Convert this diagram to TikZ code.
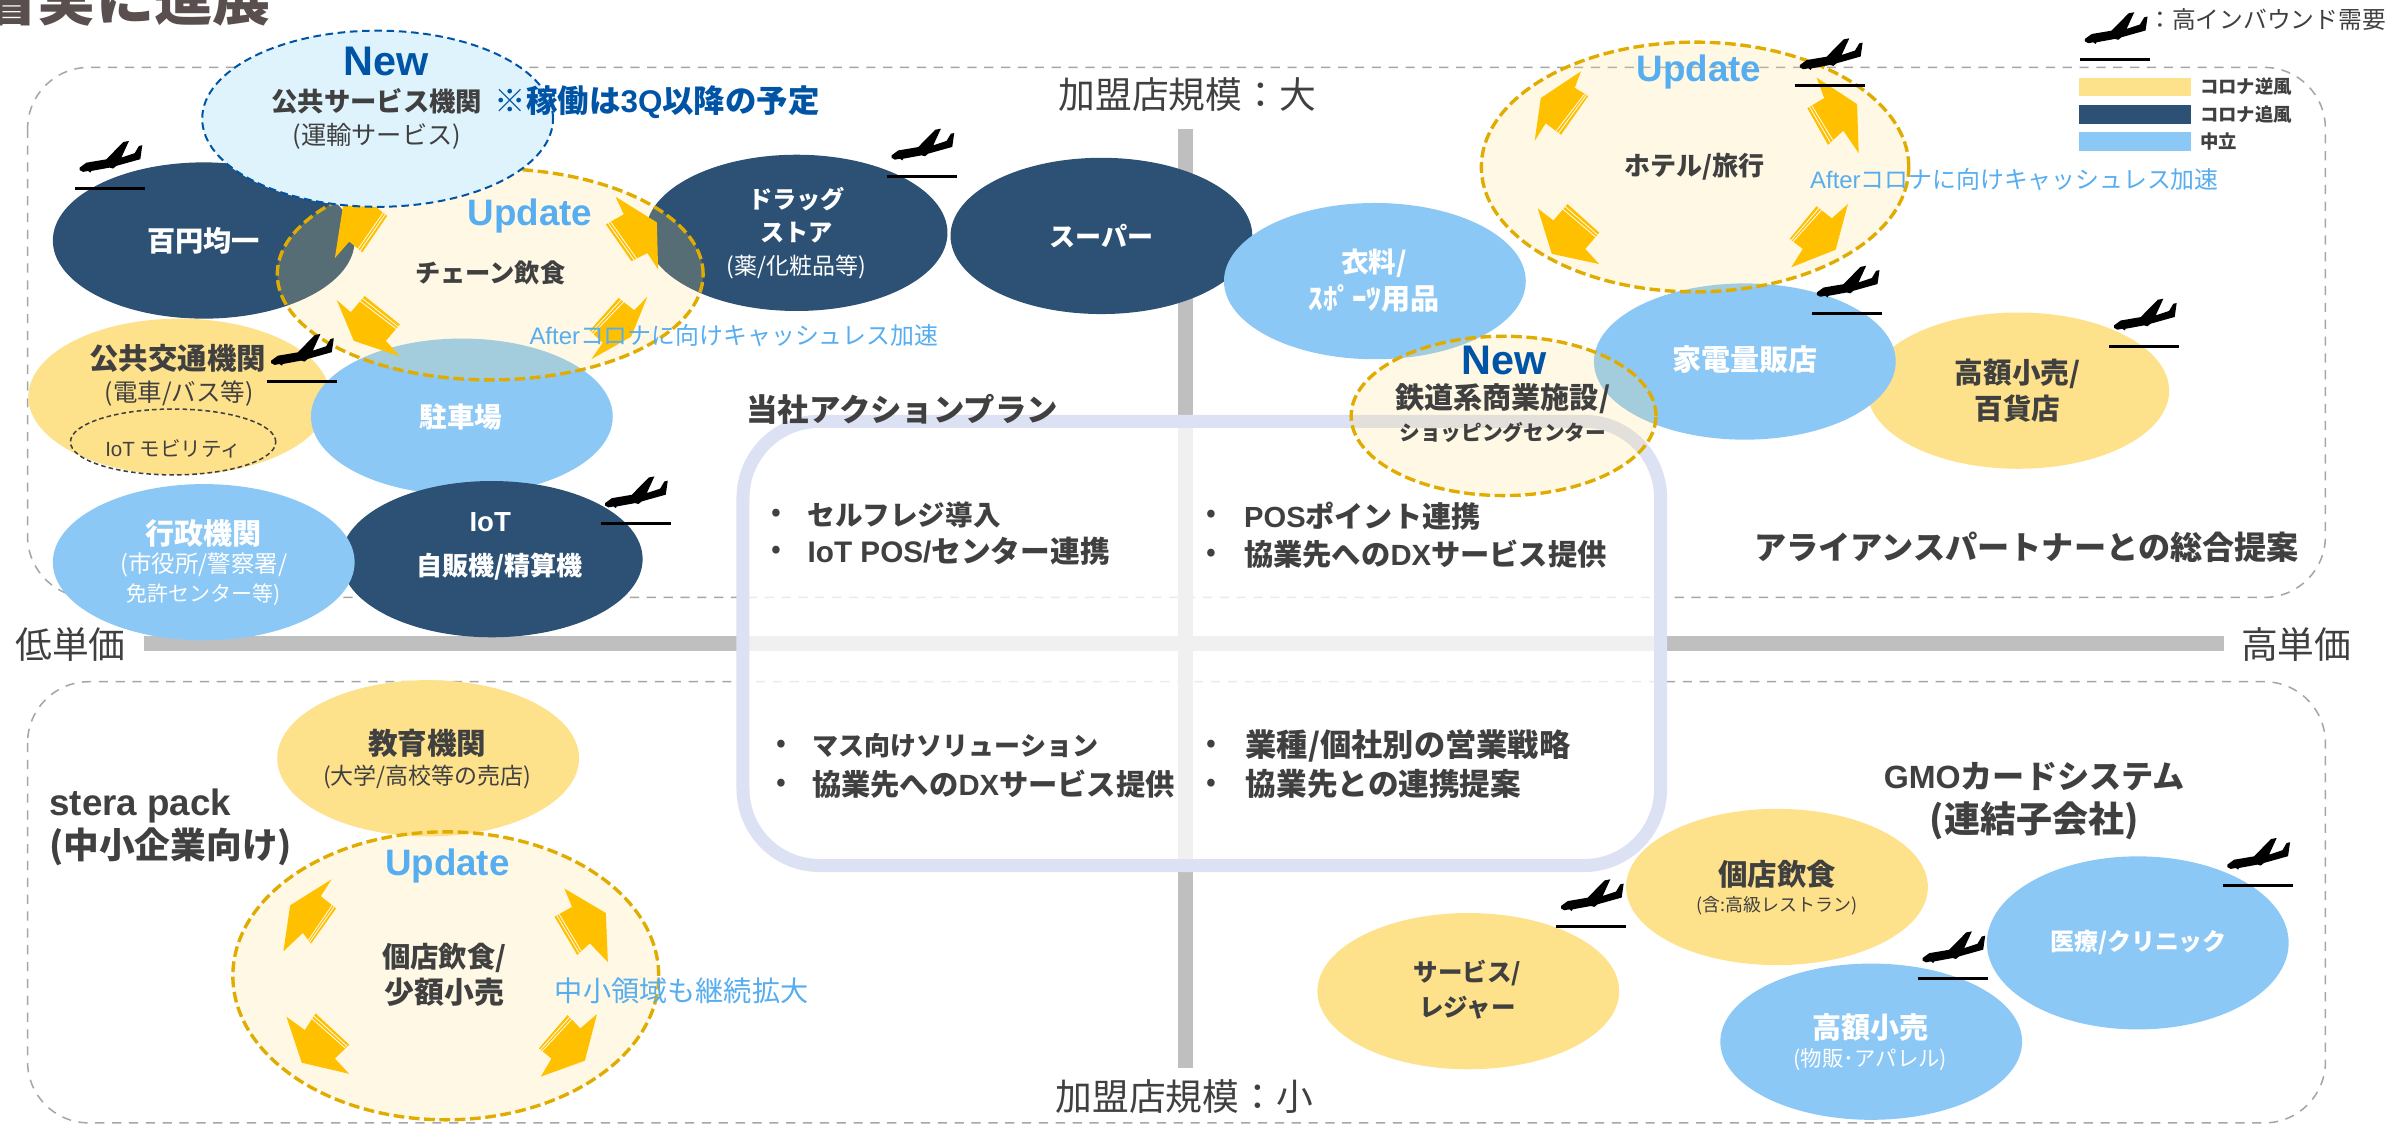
\documentclass[tikz,border=0pt]{standalone}
\usepackage{fontspec}
\setmainfont{Noto Sans CJK JP}
\newfontfamily\lat{Liberation Sans}
\usetikzlibrary{shapes.geometric,calc}
\definecolor{navy}{HTML}{2C5174}
\definecolor{ylw}{HTML}{FEE18B}
\definecolor{lblue}{HTML}{8CC8F5}
\definecolor{ambr}{HTML}{FFC000}
\definecolor{dashy}{HTML}{E0AC00}
\definecolor{cream}{HTML}{FFE07E}
\definecolor{darkt}{HTML}{404040}
\definecolor{titlet}{HTML}{5A4F4F}
\definecolor{skyt}{HTML}{56ADEF}
\definecolor{deepb}{HTML}{0054A6}
\definecolor{axisg}{HTML}{BFBFBF}
\definecolor{framg}{HTML}{A6A6A6}
\definecolor{planb}{HTML}{DCE1F3}
\definecolor{paleb}{HTML}{DFF3FC}
\tikzset{
  x=1pt,y=-1pt,
  ell/.style 2 args={ellipse,inner sep=0pt,minimum width=#1pt,minimum height=#2pt},
  std/.style={ell={197}{102}},
  nv/.style={std,fill=navy},
  yl/.style={std,fill=ylw},
  lb/.style={std,fill=lblue},
  upd/.style={draw=dashy,line width=2.2pt,dash pattern=on 7pt off 3pt,fill=cream,fill opacity=.2},
  frm/.style={draw=framg,line width=1pt,dash pattern=on 6pt off 5pt,rounded corners=40pt},
  txt/.style={inner sep=0pt,align=center},
  wb/.style={txt,text=white},
  db/.style={txt,text=darkt},
  sk/.style={txt,text=skyt},
  dp/.style={txt,text=deepb},
  stripe/.style={white,line width=.5pt},
  plane/.pic={
    \draw[black,line width=2pt] (0,0) -- (45.7,0);
    \fill[black,shift={(2.6,-31)}] (0.4,17.4)--(4.8,14.2)--(17.8,12)--(28.9,0.7)--(32.6,0)--(27.6,10.9)--(36.3,8)--(39.1,3.3)--(41.3,2.8)--(40,11.9)--(24.3,16.3)--(22.2,18)--(20,17.4)--(8,19.6)--(7.4,20.7)--(5.9,19.6)--(2.6,20.2)--(0.4,19)--cycle;
  }
}
\newcommand\tl[5]{\node[#3,font=\fontsize{#4}{#4}\selectfont] (#1) at (#2) {#5};}
\newcommand\tb[5]{\node[#3,font=\bfseries\fontsize{#4}{#4}\selectfont] (#1) at (#2) {#5};}
\def\arw(#1)(#2)(#3)(#4)(#5)(#6)(#7){%
  \fill[ambr] (#1)--(#2)--(#3)--(#4)--(#5)--(#6)--(#7)--cycle;
  \draw[stripe] ($(#5)!.16!(#4)$)--($(#6)!.13!(#7)$);
  \draw[stripe] ($(#5)!.32!(#4)$)--($(#6)!.26!(#7)$);}
\begin{document}
\begin{tikzpicture}
\useasboundingbox (0,0) rectangle (1568,734.4);
\clip (0,0) rectangle (1568,734.4);
\fill[white] (0,0) rectangle (1568,734.4);
% title
\tb{title}{177,-1}{txt,anchor=east,text=titlet}{38}{着実に進展}
% frames
\draw[frm] (18,44) rectangle (1518,390);
\draw[frm] (18,445) rectangle (1518,733);
% axes
\fill[axisg] (769,84) rectangle (779,697);
\fill[axisg] (94,415) rectangle (1452,425);
\tl{lo}{46,421}{db}{24}{低単価}
\tl{hi}{1499,421}{db}{24}{高単価}
\tl{big}{775,62}{db}{24}{加盟店規模：大}
\tl{small}{773,716}{db}{24}{加盟店規模：小}
% action plan
\draw[draw=planb,line width=8.5pt,fill=white,fill opacity=.78,draw opacity=1,rounded corners=50pt] (485,275) rectangle (1084,565);
\tb{ap}{589,267}{db}{20.5}{当社アクションプラン}
\foreach \n/\bx/\by in {a/507/336,b/507/360,c/791/337,d/791/362,e/510/487,f/510/512,g/791/487,h/791/512}{\tb{bu\n}{\bx,\by}{db}{16}{•}}
\tb{p1}{527,336}{db,anchor=west}{18}{セルフレジ導入}
\tb{p2}{527,360}{db,anchor=west}{19.4}{{\lat IoT POS/}センター連携}
\tb{p3}{812,337}{db,anchor=west}{19}{{\lat POS}ポイント連携}
\tb{p4}{812,362}{db,anchor=west}{19.1}{協業先への{\lat DX}サービス提供}
\tb{p5}{530,487}{db,anchor=west}{17}{マス向けソリューション}
\tb{p6}{530,512}{db,anchor=west}{19.1}{協業先への{\lat DX}サービス提供}
\tb{p7}{813,487}{db,anchor=west}{20.4}{業種/個社別の営業戦略}
\tb{p8}{813,512}{db,anchor=west}{20}{協業先との連携提案}
% upper left cluster
\node[nv] (hyaku) at (133,157) {};
\node[nv] (drug) at (520,152) {};
\node[nv] (super) at (719,154) {};
\node[yl] (kotsu) at (117,259) {};
\node[ell={134}{43},draw=darkt,line width=1pt,dash pattern=on 3pt off 2pt] (mob) at (113,288.5) {};
\node[lb] (park) at (301.5,272) {};
\node[nv] (jihan) at (321,365) {};
\node[lb] (gyosei) at (133,367) {};
\node[ell={278}{138},upd] (chain) at (320,179) {};
\arw(250,118)(224,134)(218.6,168.4)(228,157.7)(236.5,164.7)(252.7,141)(243,133)
\arw(401.8,128.4)(428.8,145.2)(429.6,175.9)(422.6,165.2)(412.2,170.5)(395.5,146.5)(407.2,139.9)
\arw(261,232.6)(231,222.5)(219.8,195.8)(229,203.8)(238,193.2)(261,211.8)(251.9,222.5)
\arw(386,234.5)(412,219.8)(422.6,193.7)(414,202.5)(403.8,194.5)(385,215.8)(393.4,223.8)
\node[ell={229}{115},fill=paleb,draw=deepb,line width=1.3pt,dash pattern=on 5pt off 3pt] (pub) at (246.5,77.5) {};
\tb{new1}{252,40}{dp}{27}{\lat New}
\tb{pub1}{246,66}{db}{17.2}{公共サービス機関}
\tl{pub2}{246,89}{db}{16.5}{(運輸サービス)}
\tb{note}{429,67}{dp}{20.5}{※稼働は{\lat 3Q}以降の予定}
\tb{upd1}{346,141}{sk}{24}{\lat Update}
\tb{t1}{133,157}{wb}{18.4}{百円均一}
\tb{t2}{320,178}{db}{16.5}{チェーン飲食}
\tb{t3}{520,130}{wb}{15.8}{ドラッグ}
\tb{t4}{520,152}{wb}{15.8}{ストア}
\tl{t5}{520,174}{wb}{15}{(薬/化粧品等)}
\tb{t6}{719,154}{wb}{17}{スーパー}
\tb{t7}{116,234}{db}{19.2}{公共交通機関}
\tl{t8}{117,257}{db}{16}{(電車/バス等)}
\tl{t9}{113,293}{db}{13.4}{{\lat IoT} モビリティ}
\tb{t10}{301,272}{wb}{18}{駐車場}
\tb{t11}{320,341}{wb}{18}{\lat IoT}
\tb{t12}{326,370}{wb}{17}{自販機/精算機}
\tb{t13}{133,348}{wb}{19}{行政機関}
\tl{t14}{133,369}{wb}{15.3}{(市役所/警察署/}
\tl{t15}{133,388}{wb}{13.7}{免許センター等)}
\tl{aft1}{479,219}{sk}{15.6}{{\lat After}コロナに向けキャッシュレス加速}
% upper right cluster
\node[lb] (iryo) at (897.5,183.5) {};
\node[yl] (hyakka) at (1317.5,255) {};
\node[lb] (kaden) at (1139,236) {};
\node[ell={279}{163},upd] (hotel) at (1106.5,109) {};
\arw(1032,46.6)(1005.8,64)(1001.8,92)(1009,80.5)(1019,88)(1036.8,62.6)(1028,57.3)
\arw(1185.8,50.6)(1212.3,68)(1213.3,100)(1203.3,85.3)(1193.3,94.6)(1179.8,70.6)(1190.8,64)
\arw(1044,172.4)(1013,165.7)(1003.8,136)(1014,143.9)(1023.3,133.2)(1044,151.9)(1034.8,162.5)
\arw(1169.3,174.5)(1198.3,163)(1206.3,133.2)(1195.8,142.5)(1185.8,134.6)(1168.3,155.9)(1176.8,162.5)
\node[ell={199}{104},upd] (rail) at (981.5,271.5) {};
\tb{upd2}{1109,47}{sk}{24}{\lat Update}
\tb{new2}{982,235}{dp}{27}{\lat New}
\tb{r1}{897,172}{wb}{18}{衣料/}
\tb{r2}{897,195}{wb}{19}{ｽﾎﾟｰﾂ用品}
\tb{r3}{1106,109}{db}{17}{ホテル/旅行}
\tb{r4}{1139,235}{wb}{19}{家電量販店}
\tb{r5}{1317,244}{db}{18.7}{高額小売/}
\tb{r6}{1317,267}{db}{18.7}{百貨店}
\tb{r7}{981,260}{db}{19}{鉄道系商業施設/}
\tb{r8}{981,282}{db}{13.5}{ショッピングセンター}
\tl{aft2}{1315,117}{sk}{15.6}{{\lat After}コロナに向けキャッシュレス加速}
\tb{r9}{1323,357}{db}{21}{アライアンスパートナーとの総合提案}
% lower left
\node[yl] (kyoiku) at (279.5,495) {};
\node[ell={278}{188},upd] (kojin) at (291,637) {};
\arw(216.5,574)(189.4,591)(185,621)(197.7,609)(203,616)(219.4,593)(209.4,585)
\arw(368.4,580)(395.5,596)(396.8,628)(385,615.8)(376.8,623.4)(362,598.4)(373.4,592)
\arw(228,701)(197,693.7)(187,663.7)(199,672.4)(206,661.5)(228,682)(218.6,691)
\arw(353,702.8)(381.8,692.4)(389.7,662)(378.8,671.3)(370.5,662.6)(351.8,684.4)(360,691)
\tb{upd3}{292,565}{sk}{24}{\lat Update}
\tb{b1}{279,485}{db}{19.3}{教育機関}
\tl{b2}{279,507}{db}{15}{(大学/高校等の売店)}
\tb{b3}{32,526}{db,anchor=west}{24}{\lat stera pack}
\tb{b4}{32,553}{db,anchor=west}{23.3}{(中小企業向け)}
\tb{b5}{290,625}{db}{18.5}{個店飲食/}
\tb{b6}{290,648}{db}{19.5}{少額小売}
\tl{b7}{445,647}{sk}{18.4}{中小領域も継続拡大}
% lower right
\node[yl] (svc) at (958.5,647) {};
\node[yl] (koten) at (1160,579) {};
\node[lb] (kogaku) at (1221.5,680) {};
\node[lb,minimum height=113pt] (clinic) at (1395.5,615.5) {};
\tb{c1}{1328,507}{db}{21}{{\lat GMO}カードシステム}
\tb{c2}{1328,536}{db}{23.5}{(連結子会社)}
\tb{c3}{1160,571}{db}{19.2}{個店飲食}
\tl{c4}{1160,591}{db}{11.7}{(含:高級レストラン)}
\tb{c5}{958,635}{db}{16}{サービス/}
\tb{c6}{958,658}{db}{16}{レジャー}
\tb{c7}{1396,615}{wb}{15.6}{医療/クリニック}
\tb{c8}{1221,671}{wb}{19}{高額小売}
\tl{c9}{1221,692}{wb}{14}{(物販･アパレル)}
% planes
\foreach \px/\py in {49/123,579/115,174/249,392/342,1172/56,1183/204.5,1377/226,1451/578,1252/639,1016/605,1358/39}{
  \pic at (\px,\py) {plane};
}
% legend
\fill[ylw] (1357,50.6) rectangle (1430,62.4);
\fill[navy] (1357,68.5) rectangle (1430,80.7);
\fill[lblue] (1357,86) rectangle (1430,98.6);
\tb{l1}{1436,56.5}{db,anchor=west}{12}{コロナ逆風}
\tb{l2}{1436,74.5}{db,anchor=west}{12}{コロナ追風}
\tb{l3}{1436,92.5}{db,anchor=west}{12}{中立}
\tl{l4}{1480,13}{db}{15.5}{：高インバウンド需要}
\end{tikzpicture}
\end{document}
